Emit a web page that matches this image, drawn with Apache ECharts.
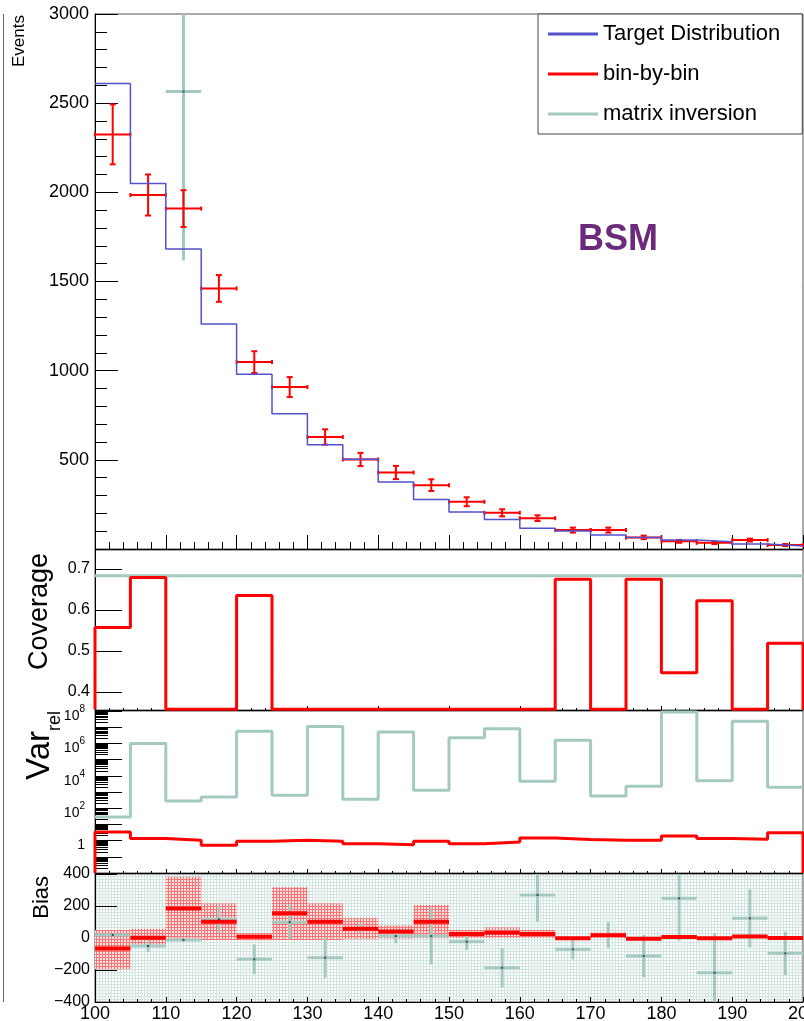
<!DOCTYPE html>
<html><head><meta charset="utf-8">
<script src="https://cdn.jsdelivr.net/npm/echarts@6/dist/echarts.min.js"></script>
<style>html,body{margin:0;padding:0;background:#fff}#c{width:804px;height:1021px}</style>
</head><body><div id="c"></div>
<script>
// ---------------- data ----------------
const binEdges = [100,105,110,115,120,125,130,135,140,145,150,155,160,165,170,175,180,185,190,195,200];
const targetDist = [2610,2050,1682,1262,980,759,585,503,376,278,207,166,116,101,78,65,50,41,28,17];
const binByBin    = [2325,1985,1909,1461,1048,908,628,502,429,358,265,203,173,106,106,65,43,35,50,22];
const binByBinErr = [168,115,103,75,61,56,43,37,37,33,25,20,16,14,14,10,8,7,8,6];
const matrixInv    = [null,null,2565,null,null,null,null,null,null,null,null,null,null,null,null,null,null,null,null,null];
const matrixInvErr = [null,null,947,null,null,null,null,null,null,null,null,null,null,null,null,null,null,null,null,null];
const coverageBinByBin = [0.557,0.679,0,0,0.635,0,0,0,0,0,0,0,0,0.675,0,0.675,0.447,0.622,0,0.519];
const coverageMatrix   = [0.683,0.683,0.683,0.683,0.683,0.683,0.683,0.683,0.683,0.683,0.683,0.683,0.683,0.683,0.683,0.683,0.683,0.683,0.683,0.683];
const varMatrix   = [29,1.0e6,282,500,5.6e6,630,1.1e7,355,5.1e6,1260,2.2e6,8.1e6,4600,1.55e6,575,2240,8.7e7,5000,2.3e7,1950];
const varBinByBin = [3.4,1.33,1.05,0.51,0.9,1.05,0.9,0.65,0.55,0.9,0.65,0.83,1.47,1.15,1.05,1.05,1.95,1.33,1.2,3.0];
const biasBinByBin     = [-65,2,185,102,8,154,102,58,40,102,25,33,25,-2,17,-4,6,-2,10,0];
const biasBinByBinLow  = [-195,-40,-12,-12,-14,-12,-12,-8,-5,-2,0,0,0,-8,0,-8,0,-6,0,-4];
const biasBinByBinHigh = [50,58,383,216,30,318,216,124,80,206,50,66,50,4,34,0,12,2,20,4];
const biasMatrix    = [19,-50,-12,117,-133,99,-123,60,12,12,-23,-186,269,-71,19,-113,248,-217,123,-96];
const biasMatrixErr = [6,37,10,83,93,107,125,30,45,177,52,122,167,62,80,132,266,247,181,135];

// tick / label values
const coverageTicks = [0.4,0.5,0.6,0.7];
const varMajorTicks = [1e-2,1e-1,1,1e1,1e2,1e3,1e4,1e5,1e6,1e7,1e8];
const varLabelTicks = [1,1e2,1e4,1e6,1e8];

// ---------------- style ----------------
const FONT = 'Liberation Sans, Arial, Helvetica, sans-serif';
const BLUE = '#5252cc', RED = '#ff0000', TEAL = '#a4c9c1';
const COV_MIN = 0.356, COV_MAX = 0.746;
const VAR_MIN = 1e-2, VAR_MAX = 1e8;

function pattern(lineColor, bg) {
  const c = document.createElement('canvas');
  c.width = 3; c.height = 3;
  const ctx = c.getContext('2d');
  ctx.fillStyle = lineColor; ctx.fillRect(0, 0, 3, 3);
  ctx.fillStyle = bg; ctx.fillRect(1, 1, 2, 2);
  return { image: c, repeat: 'repeat' };
}
const tealPattern = pattern('#d4e6e1', '#ffffff');
const redPattern = pattern('#f77272', '#fde4e4');

function stepPoints(vals, base) {
  const pts = [];
  if (base !== undefined) pts.push([binEdges[0], base]);
  vals.forEach((v, i) => { pts.push([binEdges[i], v]); pts.push([binEdges[i + 1], v]); });
  if (base !== undefined) pts.push([binEdges[binEdges.length - 1], base]);
  return pts;
}
function crossData(vals, errs) {
  const out = [];
  vals.forEach((v, i) => { if (v !== null) out.push([binEdges[i], binEdges[i + 1], v, errs[i]]); });
  return out;
}
function makeCross(color, lw, caps, dot) {
  return function (params, api) {
    const cs = params.coordSys;
    const yTop = cs.y, yBot = cs.y + cs.height;
    const clamp = v => Math.max(yTop, Math.min(yBot, v));
    const y = api.value(2), e = api.value(3);
    const a = api.coord([api.value(0), y]);
    const b = api.coord([api.value(1), y]);
    const up = clamp(api.coord([api.value(0), y + e])[1]);
    const dn = clamp(api.coord([api.value(0), y - e])[1]);
    const xm = (a[0] + b[0]) / 2;
    const st = { stroke: color, lineWidth: lw, fill: null };
    const ch = [];
    const inside = a[1] >= yTop && a[1] <= yBot;
    if (inside) ch.push({ type: 'line', shape: { x1: a[0], y1: a[1], x2: b[0], y2: b[1] }, style: st });
    if (dn - up > 0.5) ch.push({ type: 'line', shape: { x1: xm, y1: up, x2: xm, y2: dn }, style: st });
    if (caps) {
      if (up > yTop) ch.push({ type: 'line', shape: { x1: xm - 3, y1: up, x2: xm + 3, y2: up }, style: st });
      if (dn < yBot) ch.push({ type: 'line', shape: { x1: xm - 3, y1: dn, x2: xm + 3, y2: dn }, style: st });
      if (inside) {
        ch.push({ type: 'line', shape: { x1: a[0], y1: a[1] - 2, x2: a[0], y2: a[1] + 2 }, style: st });
        ch.push({ type: 'line', shape: { x1: b[0], y1: b[1] - 2, x2: b[0], y2: b[1] + 2 }, style: st });
      }
    }
    if (dot && inside) ch.push({ type: 'rect', shape: { x: xm - 1, y: a[1] - 1, width: 2, height: 2 }, style: { fill: dot } });
    return { type: 'group', children: ch };
  };
}
function barLine(color, lw) {
  return function (params, api) {
    const a = api.coord([api.value(0), api.value(2)]);
    const b = api.coord([api.value(1), api.value(2)]);
    return { type: 'line', shape: { x1: a[0], y1: a[1], x2: b[0], y2: b[1] }, style: { stroke: color, lineWidth: lw } };
  };
}
function boxRender(params, api) {
  const a = api.coord([api.value(0), api.value(3)]);
  const b = api.coord([api.value(1), api.value(2)]);
  return { type: 'rect', shape: { x: a[0], y: a[1], width: b[0] - a[0], height: b[1] - a[1] }, style: { fill: redPattern } };
}

const varMinorTicks = [];
for (let k = -2; k < 8; k++) for (let m = 2; m <= 9; m++) varMinorTicks.push(m * Math.pow(10, k));

// ---------------- layout ----------------
const L = 95, R = 1;
const grids = [
  { left: L, right: R, top: 14, height: 535 },
  { left: L, right: R, top: 550, height: 160 },
  { left: L, right: R, top: 711, height: 162 },
  { left: L, right: R, top: 874, height: 128 }
].map((g, i) => Object.assign(g, {
  show: true, borderColor: '#555', borderWidth: 1,
  backgroundColor: i === 3 ? tealPattern : '#fff',
  containLabel: false, outerBoundsMode: 'none'
}));

function xAxis(gi, major, minor, labels) {
  return {
    type: 'value', gridIndex: gi, min: 100, max: 200, interval: 10,
    axisLine: { show: true, onZero: false, lineStyle: { color: '#000', width: 1 } },
    axisTick: { show: true, inside: true, length: major, lineStyle: { color: '#000', width: 1 } },
    minorTick: { show: true, splitNumber: 5, length: minor, lineStyle: { color: '#000', width: 1 } },
    splitLine: { show: false }, minorSplitLine: { show: false },
    axisLabel: labels ? { show: true, fontSize: 18, color: '#000', fontFamily: FONT, margin: 3, showMinLabel: true, showMaxLabel: true,
      formatter: v => String(v) } : { show: false }
  };
}
const yBase = {
  axisLine: { show: true, onZero: false, lineStyle: { color: '#000', width: 1 } },
  splitLine: { show: false }, minorSplitLine: { show: false }
};

const option = {
  animation: false,
  backgroundColor: '#fff',
  textStyle: { fontFamily: FONT },
  title: { text: 'BSM', left: 578, top: 222, padding: 0,
    textStyle: { fontSize: 36, fontWeight: 'bold', color: '#6c2a7c', fontFamily: FONT } },
  legend: {
    orient: 'vertical', left: 538, top: 14, padding: [9, 22, 9, 10], itemGap: 18,
    itemWidth: 50, itemHeight: 3, selectedMode: false,
    backgroundColor: '#fff', borderColor: '#444', borderWidth: 1, borderRadius: 0,
    textStyle: { fontSize: 22, color: '#000', fontFamily: FONT },
    data: [
      { name: 'Target Distribution', icon: 'rect', itemStyle: { color: BLUE, borderWidth: 0 } },
      { name: 'bin-by-bin', icon: 'rect', itemStyle: { color: RED, borderWidth: 0 } },
      { name: 'matrix inversion', icon: 'rect', itemStyle: { color: TEAL, borderWidth: 0 } }
    ]
  },
  grid: grids,
  xAxis: [xAxis(0, 14, 7, false), xAxis(1, 4, 2, false), xAxis(2, 4, 2, false), xAxis(3, 5, 3, true)],
  yAxis: [
    Object.assign({}, yBase, {
      type: 'value', gridIndex: 0, min: 0, max: 3000, interval: 500,
      axisTick: { show: true, inside: true, length: 23, lineStyle: { color: '#000' } },
      minorTick: { show: true, splitNumber: 5, length: 12, lineStyle: { color: '#000' } },
      axisLabel: { fontSize: 18, color: '#000', fontFamily: FONT, margin: 6, showMinLabel: false,
        formatter: v => String(v) }
    }),
    Object.assign({}, yBase, {
      type: 'value', gridIndex: 1, min: COV_MIN, max: COV_MAX,
      axisTick: { show: true, inside: true, length: 27, customValues: coverageTicks, lineStyle: { color: '#000' } },
      axisLabel: { fontSize: 16, color: '#000', fontFamily: FONT, margin: 5, customValues: coverageTicks,
        formatter: v => v.toFixed(1) }
    }),
    Object.assign({}, yBase, {
      type: 'log', logBase: 10, gridIndex: 2, min: VAR_MIN, max: VAR_MAX, position: 'left',
      axisTick: { show: true, inside: true, length: 27, customValues: varMajorTicks, lineStyle: { color: '#000' } },
      axisLabel: { color: '#000', fontFamily: FONT, margin: 10, customValues: varLabelTicks,
        formatter: v => { const e = Math.round(Math.log10(v)); return e === 0 ? '{b|1}' : '{b|10}{s|' + e + '}'; },
        rich: {
          b: { fontSize: 14, lineHeight: 14, padding: [5, 0, 0, 0], verticalAlign: 'top', color: '#000', fontFamily: FONT },
          s: { fontSize: 10, lineHeight: 10, verticalAlign: 'top', color: '#000', fontFamily: FONT }
        } }
    }),
    {
      type: 'log', logBase: 10, gridIndex: 2, min: VAR_MIN, max: VAR_MAX, position: 'left',
      axisLine: { show: false }, axisLabel: { show: false }, splitLine: { show: false },
      axisTick: { show: true, inside: true, length: 13, customValues: varMinorTicks, lineStyle: { color: '#000' } }
    },
    Object.assign({}, yBase, {
      type: 'value', gridIndex: 3, min: -400, max: 400, interval: 200,
      axisTick: { show: true, inside: true, length: 22, lineStyle: { color: '#000' } },
      axisLabel: { fontSize: 16, color: '#000', fontFamily: FONT, margin: 5, showMinLabel: true, showMaxLabel: true,
        formatter: v => (v < 0 ? '\u2212' + Math.abs(v) : String(v)) }
    })
  ],
  series: [
    // main panel
    { name: 'Target Distribution', type: 'line', xAxisIndex: 0, yAxisIndex: 0, data: stepPoints(targetDist),
      symbol: 'none', clip: true, color: BLUE, itemStyle: { color: BLUE }, lineStyle: { color: BLUE, width: 1.5 } },
    { name: 'matrix inversion', type: 'custom', xAxisIndex: 0, yAxisIndex: 0, color: TEAL, itemStyle: { color: TEAL },
      renderItem: makeCross(TEAL, 3, false, '#445'), data: crossData(matrixInv, matrixInvErr), encode: { x: [0, 1], y: 2 } },
    { name: 'bin-by-bin', type: 'custom', xAxisIndex: 0, yAxisIndex: 0, color: RED, itemStyle: { color: RED },
      renderItem: makeCross(RED, 2, true, null), data: crossData(binByBin, binByBinErr), encode: { x: [0, 1], y: 2 } },
    // coverage
    { name: 'matrix inversion', type: 'line', xAxisIndex: 1, yAxisIndex: 1, data: stepPoints(coverageMatrix),
      symbol: 'none', clip: true, color: TEAL, lineStyle: { color: TEAL, width: 3 } },
    { name: 'bin-by-bin', type: 'line', xAxisIndex: 1, yAxisIndex: 1,
      data: stepPoints(coverageBinByBin.map(v => Math.max(v, COV_MIN + 0.002)), COV_MIN + 0.002),
      symbol: 'none', clip: true, color: RED, lineStyle: { color: RED, width: 3 } },
    // relative variance
    { name: 'matrix inversion', type: 'line', xAxisIndex: 2, yAxisIndex: 2, data: stepPoints(varMatrix),
      symbol: 'none', clip: true, color: TEAL, lineStyle: { color: TEAL, width: 3 } },
    { name: 'bin-by-bin', type: 'line', xAxisIndex: 2, yAxisIndex: 2, data: stepPoints(varBinByBin, VAR_MIN),
      symbol: 'none', clip: true, color: RED, lineStyle: { color: RED, width: 3 } },
    // bias
    { name: 'bin-by-bin', type: 'custom', xAxisIndex: 3, yAxisIndex: 4, color: RED, renderItem: boxRender,
      data: biasBinByBin.map((v, i) => [binEdges[i], binEdges[i + 1], biasBinByBinLow[i], biasBinByBinHigh[i]]),
      encode: { x: [0, 1], y: [2, 3] } },
    { name: 'matrix inversion', type: 'custom', xAxisIndex: 3, yAxisIndex: 4, color: TEAL,
      renderItem: makeCross(TEAL, 3, false, '#445'), data: crossData(biasMatrix, biasMatrixErr), encode: { x: [0, 1], y: 2 } },
    { name: 'bin-by-bin', type: 'custom', xAxisIndex: 3, yAxisIndex: 4, color: RED,
      renderItem: barLine(RED, 4), data: crossData(biasBinByBin, biasBinByBin.map(() => 0)), encode: { x: [0, 1], y: 2 } }
  ],
  graphic: [
    { type: 'line', shape: { x1: 3.5, y1: 14, x2: 3.5, y2: 1002 }, style: { stroke: '#666', lineWidth: 1 }, silent: true },
    { type: 'text', x: 11, y: 15, rotation: Math.PI / 2,
      style: { text: 'Events', font: '17px ' + FONT, fill: '#000', textAlign: 'right', textVerticalAlign: 'top' } },
    { type: 'text', x: 26, y: 553, rotation: Math.PI / 2,
      style: { text: 'Coverage', font: '27px ' + FONT, fill: '#000', textAlign: 'right', textVerticalAlign: 'top' } },
    { type: 'text', x: 23, y: 711, rotation: Math.PI / 2,
      style: { text: '{v|Var}{r|rel}', textAlign: 'right', textVerticalAlign: 'top',
        rich: {
          v: { fontSize: 33, lineHeight: 33, verticalAlign: 'top', fill: '#000', fontFamily: FONT },
          r: { fontSize: 18, lineHeight: 18, padding: [23, 0, 0, 0], verticalAlign: 'top', fill: '#000', fontFamily: FONT }
        } } },
    { type: 'text', x: 31, y: 876, rotation: Math.PI / 2,
      style: { text: 'Bias', font: '22px ' + FONT, fill: '#000', textAlign: 'right', textVerticalAlign: 'top' } }
  ]
};
const chart = echarts.init(document.getElementById('c'), null, { renderer: 'canvas' });
chart.setOption(option);
</script></body></html>
